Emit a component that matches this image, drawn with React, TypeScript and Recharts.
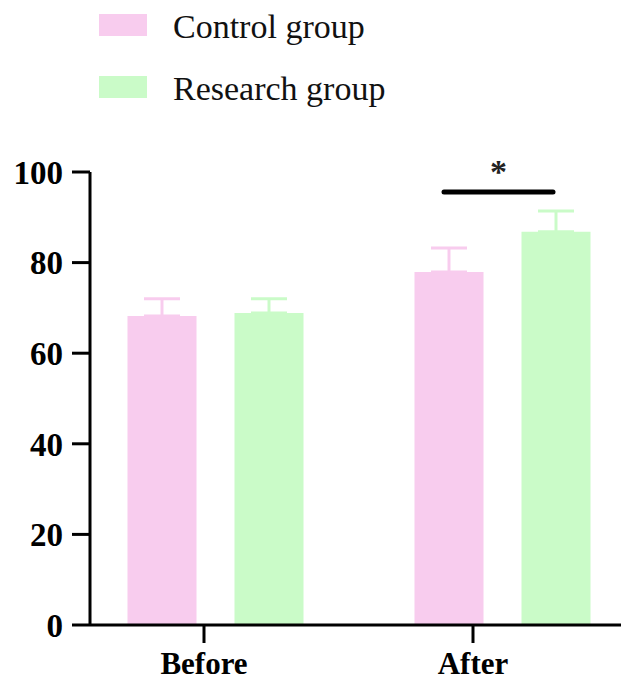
import React from 'react';
import { BarChart, Bar, XAxis, YAxis, ErrorBar, LabelList } from 'recharts';

const categories = ['Before', 'After'];
const controlMean = [68.2, 77.9];
const controlSd = [3.8, 5.3];
const researchMean = [68.9, 86.8];
const researchSd = [3.1, 4.6];
const significance = ['', '*'];
const bracketLevel = 95.6;
const yTicks = [0, 20, 40, 60, 80, 100];

const PINK = '#F8CCEE';
const GREEN = '#CAFBC8';
const SERIF = '"Liberation Serif", "Times New Roman", serif';
const BAR_SIZE = 69;
const BAR_GAP = 38;

// error bars only point upwards, as in the original figure
const data = categories.map((name, i) => ({
  name,
  control: controlMean[i],
  controlErr: [0, controlSd[i]],
  research: researchMean[i],
  researchErr: [0, researchSd[i]],
  sig: significance[i],
}));

// draws the significance bracket from the control bar to the research bar
const SigBracket = (props: any) => {
  const { x, y, width, height, value, index } = props;
  if (!value) return null;
  const bottom = y + height;
  const pxPerUnit = height / controlMean[index];
  const ly = bottom - bracketLevel * pxPerUnit;
  const x1 = x + width / 2 - 5;
  const x2 = x + width + BAR_GAP + width / 2 - 3;
  return (
    <g>
      <line x1={x1} y1={ly} x2={x2} y2={ly} stroke="#000" strokeWidth={5} strokeLinecap="round" />
      <text
        x={(x1 + x2) / 2}
        y={ly - 9}
        textAnchor="middle"
        fontSize={34}
        fontWeight="bold"
        fontFamily={SERIF}
        fill="#222"
      >
        {value}
      </text>
    </g>
  );
};

const legendItems = [
  { label: 'Control group', color: PINK },
  { label: 'Research group', color: GREEN },
];

export default function App() {
  return (
    <div style={{ position: 'absolute', left: 0, top: 0, width: 621, height: 685, overflow: 'hidden', background: '#fff' }}>
      <div style={{ position: 'absolute', left: 99, top: 0 }}>
        {legendItems.map((item) => (
          <div key={item.label} style={{ display: 'flex', alignItems: 'center', height: 62, marginTop: item.label === 'Control group' ? -6 : 0 }}>
            <div style={{ width: 48, height: 22, background: item.color }} />
            <span style={{ marginLeft: 26, fontFamily: SERIF, fontSize: 34, color: '#111', position: 'relative', top: 2 }}>{item.label}</span>
          </div>
        ))}
      </div>
      <BarChart
        width={660}
        height={685}
        data={data}
        margin={{ top: 172, right: 14.5, left: 0, bottom: 0 }}
        barSize={BAR_SIZE}
        barGap={BAR_GAP}
      >
        <XAxis dataKey="name" hide height={0} padding={{ left: -18.5, right: 0 }} />
        <XAxis
          xAxisId="lab"
          dataKey="name"
          height={60}
          padding={{ left: -20.5, right: 38 }}
          axisLine={{ stroke: '#000', strokeWidth: 3 }}
          tickLine={{ stroke: '#000', strokeWidth: 3 }}
          tickSize={18}
          tickMargin={9}
          tick={{ fill: '#000', fontSize: 31, fontWeight: 'bold', fontFamily: SERIF }}
        />
        <YAxis
          domain={[0, 100]}
          ticks={yTicks}
          width={90}
          tickSize={18}
          tickMargin={9}
          axisLine={{ stroke: '#000', strokeWidth: 3 }}
          tickLine={{ stroke: '#000', strokeWidth: 3 }}
          tick={{ fill: '#000', fontSize: 33, fontWeight: 'bold', fontFamily: SERIF }}
        />
        <Bar dataKey="control" fill={PINK} isAnimationActive={false}>
          <ErrorBar dataKey="controlErr" width={18} strokeWidth={3} stroke={PINK} direction="y" />
          <LabelList dataKey="sig" content={<SigBracket />} />
        </Bar>
        <Bar dataKey="research" fill={GREEN} isAnimationActive={false}>
          <ErrorBar dataKey="researchErr" width={18} strokeWidth={3} stroke={GREEN} direction="y" />
        </Bar>
      </BarChart>
    </div>
  );
}
